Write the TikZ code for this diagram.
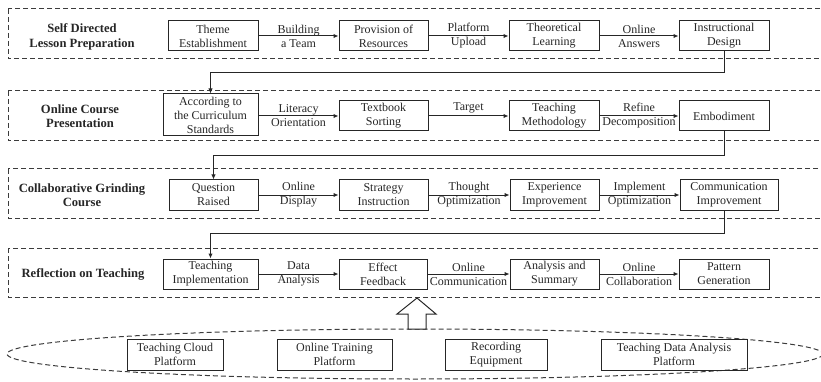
\documentclass[tikz,border=0pt]{standalone}
\usepackage{fontspec}
\setmainfont{Liberation Serif}
\usetikzlibrary{arrows.meta}
\definecolor{ink}{HTML}{262626}
\tikzset{
  box/.style={draw=ink, line width=1pt, minimum height=30pt, align=center, inner sep=0pt,
    text=ink, font=\fontsize{12}{14}\selectfont},
  title/.style={align=center, inner sep=0pt, text=ink, font=\fontsize{12.6}{14.5}\selectfont\bfseries},
  lbl/.style={align=center, inner sep=0pt, text=ink, font=\fontsize{12}{14}\selectfont},
  conn/.style={draw=ink, line width=1pt, -{Latex[length=5pt,width=4.5pt]}},
  dashbox/.style={draw=ink!90, line width=1pt, dash pattern=on 5pt off 3pt},
}
\begin{document}
\begin{tikzpicture}[x=1pt,y=-1pt]
\useasboundingbox (0,0) rectangle (821,382);
\clip (0,0) rectangle (821,382);
% dashed lanes
\draw[dashbox] (8,9) rectangle (840,59);
\draw[dashbox] (8,91) rectangle (840,141);
\draw[dashbox] (8,169) rectangle (840,218);
\draw[dashbox] (8,248) rectangle (840,297);
\draw[dashbox] (415,354) ellipse [x radius=408, y radius=25];

% titles
\node[title] (h1) at (82,37) {Self Directed\\Lesson Preparation};
\node[title] (h2) at (80,116) {Online Course\\Presentation};
\node[title] (h3) at (82,195) {Collaborative Grinding\\Course};
\node[title] (h4) at (83,274) {Reflection on Teaching};

% row 1
\node[box, minimum width=90pt] (t1) at (213,36) {Theme\\Establishment};
\node[box, minimum width=89pt] (t2) at (383.5,36) {Provision of\\Resources};
\node[box, minimum width=90pt] (t3) at (554,36) {Theoretical\\Learning};
\node[box, minimum width=90pt] (t4) at (724,36) {Instructional\\Design};
% row 2
\node[box, minimum width=95pt, minimum height=42pt] (o1) at (210.5,115) {According to\\the Curriculum\\Standards};
\node[box, minimum width=89pt] (o2) at (383.5,116) {Textbook\\Sorting};
\node[box, minimum width=90pt] (o3) at (554,116) {Teaching\\Methodology};
\node[box, minimum width=90pt] (o4) at (724,116) {Embodiment};
% row 3
\node[box, minimum width=89pt] (c1) at (213.5,195) {Question\\Raised};
\node[box, minimum width=89pt] (c2) at (383.5,195) {Strategy\\Instruction};
\node[box, minimum width=89pt] (c3) at (554.5,195) {Experience\\Improvement};
\node[box, minimum width=98pt] (c4) at (729,195) {Communication\\Improvement};
% row 4
\node[box, minimum width=95pt] (r1) at (210.5,274) {Teaching\\Implementation};
\node[box, minimum width=88pt] (r2) at (383,274) {Effect\\Feedback};
\node[box, minimum width=89pt] (r3) at (554.5,274) {Analysis and\\Summary};
\node[box, minimum width=90pt] (r4) at (724,274) {Pattern\\Generation};
% platforms
\node[box, minimum width=96pt, minimum height=31pt] (b1) at (175,354.5) {Teaching Cloud\\Platform};
\node[box, minimum width=115pt, minimum height=31pt] (b2) at (334.5,354.5) {Online Training\\Platform};
\node[box, minimum width=102pt, minimum height=31pt] (b3) at (496,354.5) {Recording\\Equipment};
\node[box, minimum width=146pt, minimum height=31pt] (b4) at (674,354.5) {Teaching Data Analysis\\Platform};

% row connectors
\draw[conn] (t1) -- node[lbl] {Building\\a Team} (t2);
\draw[conn] (t2) -- node[lbl] {Platform\\Upload} (t3);
\draw[conn] (t3) -- node[lbl] {Online\\Answers} (t4);
\draw[conn] (o1.east |- o2) -- node[lbl] {Literacy\\Orientation} (o2);
\draw[conn] (o2) -- node[lbl, above=2pt] {Target} (o3);
\draw[conn] (o3) -- node[lbl] {Refine\\Decomposition} (o4);
\draw[conn] (c1) -- node[lbl] {Online\\Display} (c2);
\draw[conn] (c2) -- node[lbl] {Thought\\Optimization} (c3);
\draw[conn] (c3) -- node[lbl] {Implement\\Optimization} (c4);
\draw[conn] (r1) -- node[lbl] {Data\\Analysis} (r2);
\draw[conn] (r2) -- node[lbl] {Online\\Communication} (r3);
\draw[conn] (r3) -- node[lbl] {Online\\Collaboration} (r4);

% lane-to-lane connectors
\coordinate (k1) at (0,73);
\coordinate (k2) at (0,156);
\coordinate (k3) at (0,233);
\draw[conn] (t4.south) |- (k1 -| o1.north) -- (o1.north);
\draw[conn] (o4.south) |- (k2 -| c1.north) -- (c1.north);
\draw[conn] (c4.south -| t4.south) |- (k3 -| r1.north) -- (r1.north);

% hollow up arrow
\draw[draw=ink, line width=1pt, fill=white, line join=miter]
  (417,298) -- (436,314) -- (426,314) -- (426,329) -- (408,329) -- (408,314) -- (397,314) -- cycle;
\end{tikzpicture}
\end{document}
